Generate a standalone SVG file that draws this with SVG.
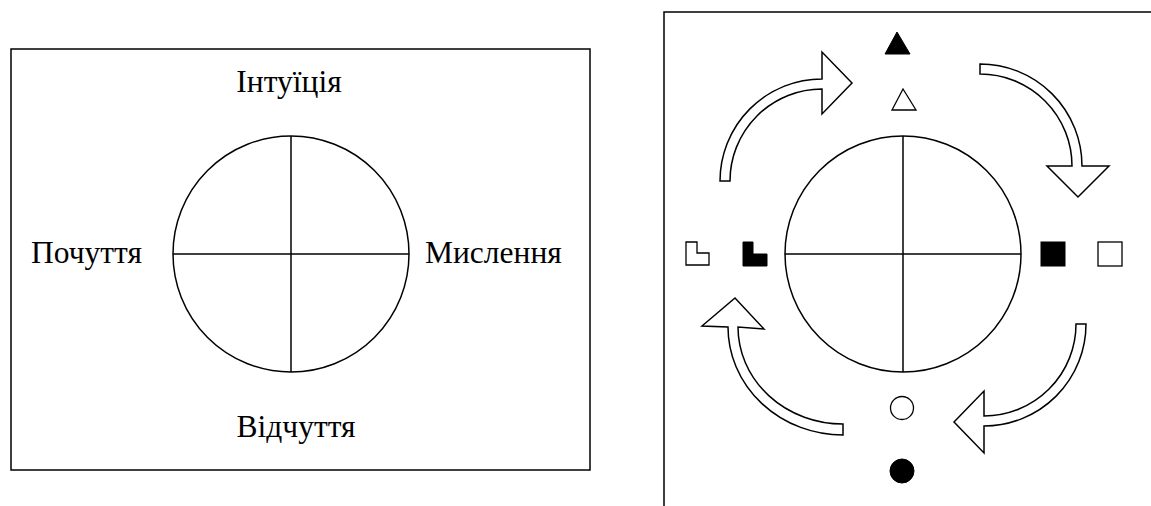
<svg xmlns="http://www.w3.org/2000/svg" width="1151" height="506" viewBox="0 0 1151 506">
  <style>
    .frame { fill: none; stroke: #000; stroke-width: 1.5; }
    .ring { fill: none; stroke: #000; stroke-width: 1.5; }
    .axis { stroke: #000; stroke-width: 1.5; }
    .label { font-family: "Liberation Serif", "Times New Roman", serif; font-size: 31.5px; fill: #000; }
    .arrow { fill: #fff; stroke: #000; stroke-width: 1.5; stroke-linejoin: miter; }
    .solid { fill: #000; stroke: #000; stroke-width: 1; }
    .hollow { fill: #fff; stroke: #000; stroke-width: 1.3; }
  </style>

  <rect width="1151" height="506" fill="#fff"/>

  <!-- Left panel: the four functions around a quartered circle -->
  <g id="left-panel">
    <rect class="frame" x="11" y="49" width="579" height="421"/>
    <g id="left-wheel">
      <circle class="ring" cx="291" cy="254" r="118"/>
      <line class="axis" x1="173" y1="254" x2="409" y2="254"/>
      <line class="axis" x1="291" y1="136" x2="291" y2="372"/>
    </g>
    <g id="intuition"><text class="label" x="289" y="92" text-anchor="middle">Інтуїція</text></g>
    <g id="feeling"><text class="label" x="31" y="263">Почуття</text></g>
    <g id="thinking"><text class="label" x="425" y="263">Мислення</text></g>
    <g id="sensation"><text class="label" x="296" y="437" text-anchor="middle">Відчуття</text></g>
  </g>

  <!-- Right panel: quartered circle with paired markers and rotating arrows -->
  <g id="right-panel">
    <path class="frame" d="M664,506 V12 H1152"/>
    <g id="right-wheel">
      <circle class="ring" cx="903" cy="254" r="118"/>
      <line class="axis" x1="785" y1="254" x2="1021" y2="254"/>
      <line class="axis" x1="903" y1="136" x2="903" y2="372"/>
    </g>

    <g id="marker-top">
      <polygon class="solid" points="897,32 885,54 910,54"/>
      <polygon class="hollow" points="903,89 892,110 916,110"/>
    </g>
    <g id="marker-right">
      <rect class="solid" x="1041" y="242" width="24" height="24"/>
      <rect class="hollow" x="1098" y="242" width="24" height="24"/>
    </g>
    <g id="marker-bottom">
      <circle class="hollow" cx="902" cy="408" r="11.5"/>
      <circle class="solid" cx="902" cy="471" r="12"/>
    </g>
    <g id="marker-left">
      <polygon class="hollow" points="686,242 697,242 697,253 709,253 709,265 686,265"/>
      <polygon class="solid" points="743,242 753,242 753,254 767,254 767,266 743,266"/>
    </g>

    <g id="connectors">
      <path class="arrow" d="M720,181 A102,102 0 0 1 822,79 L822,52 L852,83 L822,114 L822,89 A92,92 0 0 0 730,181 Z"/>
      <path class="arrow" d="M980,64 A102,102 0 0 1 1082,166 L1109,166 L1078,197 L1047,166 L1072,166 A92,92 0 0 0 980,74 Z"/>
      <path class="arrow" d="M1076,324 L1086,324 A102,102 0 0 1 984,426 L984,453 L954,422 L984,391 L984,416 A92,92 0 0 0 1076,324 Z"/>
      <path class="arrow" d="M843,435 A115,108 0 0 1 728,327 L702,326 L735,298 L764,329 L738,327 A105,97 0 0 0 843,424 Z"/>
    </g>
  </g>
</svg>
